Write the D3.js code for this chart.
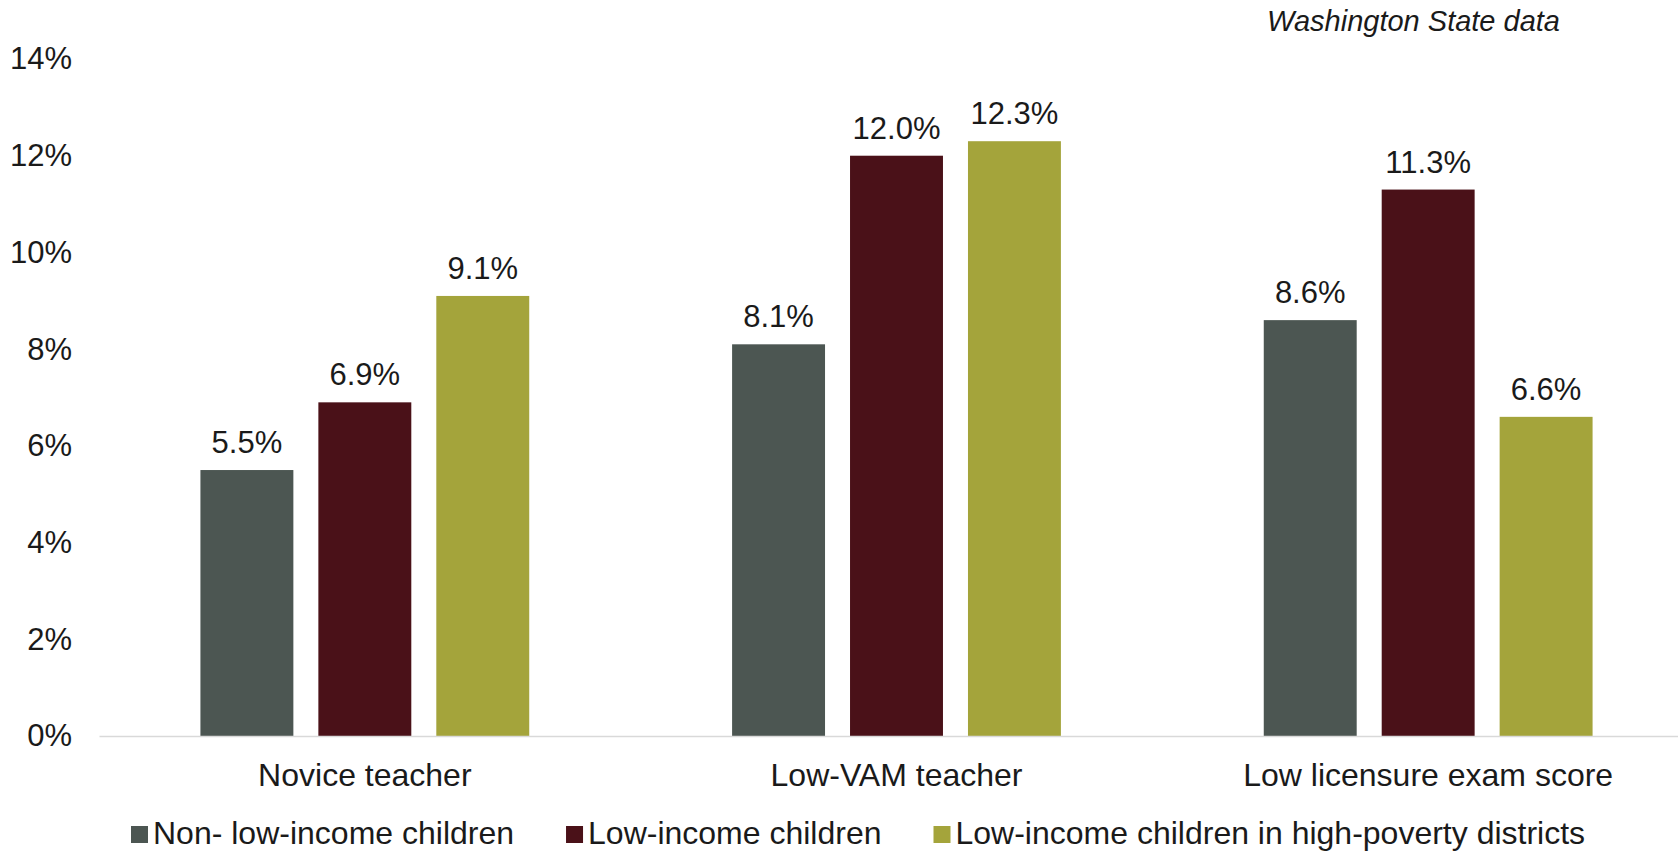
<!DOCTYPE html>
<html>
<head>
<meta charset="utf-8">
<script src="https://cdn.jsdelivr.net/npm/d3@7"></script>
<style>
  html, body { margin: 0; padding: 0; background: #ffffff; }
  svg { display: block; font-family: "Liberation Sans", Arial, sans-serif; }
</style>
</head>
<body>
<svg id="chart" width="1678" height="851"></svg>
<script>
// Shares of students assigned to each teacher type, by student group
const categories = ["Novice teacher", "Low-VAM teacher", "Low licensure exam score"];
const seriesNames = [
  "Non- low-income children",
  "Low-income children",
  "Low-income children in high-poverty districts"
];
const nonLowIncome = [0.055, 0.081, 0.086];
const lowIncome = [0.069, 0.120, 0.113];
const lowIncomeHighPoverty = [0.091, 0.123, 0.066];
const yTicks = [0, 0.02, 0.04, 0.06, 0.08, 0.10, 0.12, 0.14];
const seriesColors = ["#4c5652", "#4a1118", "#a4a43b"];
const noteText = "Washington State data";

const seriesValues = [nonLowIncome, lowIncome, lowIncomeHighPoverty];
const rows = categories.map((c, i) => ({
  category: c,
  values: seriesNames.map((s, j) => ({ series: s, idx: j, value: seriesValues[j][i] }))
}));

const svg = d3.select("#chart");
const plot = { left: 99, right: 1694, top: 59, bottom: 736 };

const x0 = d3.scaleBand().domain(categories).range([plot.left, plot.right]).padding(0);
const x1 = d3.scaleBand().domain(seriesNames)
  .range([0, x0.bandwidth()])
  .paddingInner(0.212)
  .paddingOuter(0.86);
const y = d3.scaleLinear().domain([0, 0.14]).range([plot.bottom, plot.top]);
const pct1 = d3.format(".1%");
const pct0 = d3.format(".0%");

// Y axis tick labels (no axis line, no gridlines)
const yAxis = d3.axisLeft(y).tickValues(yTicks).tickFormat(pct0).tickSize(0).tickPadding(0);
const yg = svg.append("g").attr("transform", "translate(72,0)").call(yAxis);
yg.select(".domain").remove();
yg.selectAll("text")
  .attr("font-size", 31)
  .attr("font-family", "Liberation Sans, Arial, sans-serif")
  .attr("fill", "#1a1a1a");

// Bars
const groups = svg.append("g").selectAll("g").data(rows).join("g")
  .attr("transform", d => `translate(${x0(d.category)},0)`);

groups.selectAll("rect").data(d => d.values).join("rect")
  .attr("x", d => x1(d.series))
  .attr("width", x1.bandwidth())
  .attr("y", d => y(d.value))
  .attr("height", d => y(0) - y(d.value))
  .attr("fill", d => seriesColors[d.idx]);

// Value labels
groups.selectAll("text.val").data(d => d.values).join("text")
  .attr("class", "val")
  .attr("x", d => x1(d.series) + x1.bandwidth() / 2)
  .attr("y", d => y(d.value) - 17)
  .attr("text-anchor", "middle")
  .attr("font-size", 31)
  .attr("fill", "#1a1a1a")
  .text(d => pct1(d.value));

// Baseline / category axis
const xAxis = d3.axisBottom(x0).tickSize(0).tickPadding(0);
const xg = svg.append("g").attr("transform", `translate(0,${y(0)})`).call(xAxis);
xg.select(".domain").attr("stroke", "#d9d9d9").attr("stroke-width", 1.5);
xg.selectAll("text")
  .attr("font-size", 32)
  .attr("font-family", "Liberation Sans, Arial, sans-serif")
  .attr("fill", "#1a1a1a")
  .attr("dy", 0)
  .attr("y", 50);

// Note in the top-right corner
svg.append("text")
  .attr("x", 1560).attr("y", 31)
  .attr("text-anchor", "end")
  .attr("font-size", 29)
  .attr("font-style", "italic")
  .attr("fill", "#1a1a1a")
  .text(noteText);

// Legend
const legend = svg.append("g").attr("transform", "translate(131,844)");
let lx = 0;
seriesNames.forEach((name, i) => {
  const item = legend.append("g").attr("transform", `translate(${lx},0)`);
  item.append("rect")
    .attr("x", 0).attr("y", -18)
    .attr("width", 17).attr("height", 17)
    .attr("fill", seriesColors[i]);
  const t = item.append("text")
    .attr("x", 22).attr("y", 0)
    .attr("font-size", 32)
    .attr("fill", "#1a1a1a")
    .text(name);
  lx += 22 + t.node().getComputedTextLength() + 52;
});
</script>
</body>
</html>
